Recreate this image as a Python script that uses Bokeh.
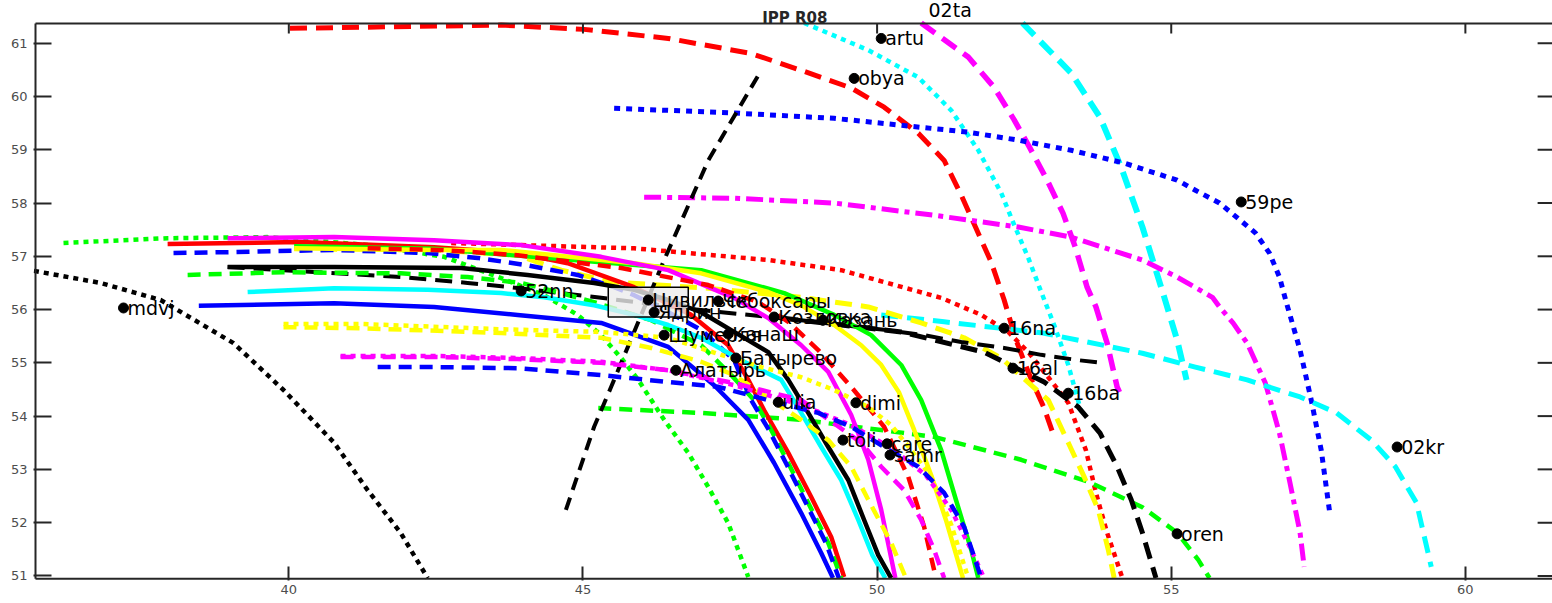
from bokeh.plotting import figure
from bokeh.models import FixedTicker, Range1d, ColumnDataSource
from bokeh.core.properties import value
from bokeh.embed import file_html
from bokeh.resources import INLINE

# ---------------- data (longitude, latitude) ----------------
x_ticks = [40, 45, 50, 55, 60]
y_ticks = [51, 52, 53, 54, 55, 56, 57, 58, 59, 60, 61]

# axes box limits (data units)
box_x = [35.694, 61.50]
box_y = [50.946, 61.370]

black_dot_lon = [35.5, 36.80, 37.82, 39.06, 39.91, 40.77, 41.34, 41.90, 42.36]
black_dot_lat = [56.76, 56.50, 56.18, 55.37, 54.49, 53.50, 52.61, 51.81, 50.96]

green_dot_lon = [36.17, 37.94, 39.64, 41.39, 42.64, 43.61, 44.34, 44.91, 45.31, 45.65, 45.94, 46.38, 46.79, 47.13, 47.47, 47.81]
green_dot_lat = [57.25, 57.34, 57.36, 57.21, 56.99, 56.59, 56.27, 55.90, 55.52, 55.09, 54.68, 53.93, 53.31, 52.67, 51.99, 50.98]

red_dash_top_lon = [40.02, 43.61, 45.02, 46.45, 47.85, 48.71, 49.56, 50.12, 50.70, 51.14, 51.43, 51.68, 51.94, 52.16, 52.36, 52.59, 52.84, 53.01]
red_dash_top_lat = [61.28, 61.34, 61.26, 61.09, 60.81, 60.49, 60.16, 59.80, 59.31, 58.80, 58.15, 57.53, 56.89, 56.18, 55.43, 54.77, 54.15, 53.61]

cyan_dot_top_lon = [48.76, 49.85, 50.70, 51.26, 51.72, 52.11, 52.33, 52.57, 52.79, 53.01, 53.25, 53.47]
cyan_dot_top_lat = [61.38, 60.87, 60.36, 59.74, 58.99, 58.19, 57.59, 56.97, 56.33, 55.71, 54.96, 54.08]

magenta_dash_top_lon = [50.75, 51.55, 51.99, 52.33, 52.59, 52.89, 53.16, 53.37, 53.57, 53.72, 53.91, 54.08, 54.12]
magenta_dash_top_lat = [61.38, 60.74, 60.17, 59.56, 59.05, 58.43, 57.81, 57.17, 56.42, 56.05, 55.37, 54.55, 54.45]

cyan_dash_top_lon = [52.47, 53.30, 53.79, 54.15, 54.51, 54.86, 55.10, 55.26]
cyan_dash_top_lat = [61.38, 60.44, 59.61, 58.67, 57.55, 56.31, 55.43, 54.68]

blue_dot_lon = [45.53, 47.57, 49.27, 50.41, 51.55, 52.40, 53.30, 54.20, 55.10, 55.41, 55.82, 56.17, 56.43, 56.67, 56.84, 56.96, 57.19, 57.38, 57.55, 57.70]
blue_dot_lat = [59.78, 59.69, 59.59, 59.46, 59.33, 59.18, 58.99, 58.75, 58.43, 58.24, 58.00, 57.68, 57.44, 57.06, 56.61, 56.12, 55.24, 54.30, 53.36, 52.14]

magenta_dashdot_lon = [46.04, 47.57, 49.27, 50.97, 52.40, 53.30, 54.51, 55.10, 55.70, 55.82, 56.05, 56.29, 56.60, 56.84, 57.02, 57.19, 57.26]
magenta_dashdot_lat = [58.11, 58.09, 58.00, 57.77, 57.55, 57.36, 56.93, 56.61, 56.23, 56.05, 55.75, 55.37, 54.62, 53.68, 52.74, 51.81, 51.17]

cyan_dash_long_lon = [50.07, 51.14, 52.82, 54.51, 55.41, 56.29, 57.19, 57.81, 58.40, 58.81, 59.17, 59.42]
cyan_dash_long_lat = [55.90, 55.77, 55.56, 55.18, 54.92, 54.68, 54.36, 54.06, 53.55, 53.05, 52.37, 51.17]

red_dot_lon = [42.76, 43.95, 45.87, 48.15, 49.39, 51.09, 51.77, 52.23, 52.57, 52.91, 53.25, 53.55, 53.72, 53.91, 54.17]
red_dot_lat = [57.25, 57.21, 57.15, 56.93, 56.74, 56.22, 55.90, 55.58, 55.20, 54.73, 54.25, 53.36, 52.56, 51.81, 50.96]

green_dash_low_lon = [45.26, 47.01, 48.71, 50.97, 52.45, 53.61, 54.51, 55.10, 55.46, 55.65]
green_dash_low_lat = [54.15, 54.06, 53.93, 53.61, 53.18, 52.76, 52.29, 51.81, 51.30, 50.96]

yellow_dash_up_lon = [40.09, 42.47, 43.89, 44.63, 45.48, 47.13, 48.71, 49.85, 50.75, 51.48, 52.11, 52.62, 52.91, 53.25, 53.52, 53.76, 53.93, 54.03]
yellow_dash_up_lat = [57.14, 57.12, 57.02, 56.74, 56.52, 56.40, 56.23, 56.05, 55.75, 55.47, 55.09, 54.58, 54.30, 53.50, 52.86, 52.24, 51.49, 50.96]

black_dash_h_lon = [38.96, 40.49, 41.90, 43.04, 43.78, 44.63, 45.31, 47.01, 48.71, 50.12, 50.80, 51.43, 52.16, 52.79, 53.42, 53.81]
black_dash_h_lat = [56.80, 56.70, 56.61, 56.50, 56.42, 56.31, 56.22, 55.99, 55.80, 55.62, 55.52, 55.39, 55.28, 55.15, 55.05, 55.00]

black_dash_d_lon = [48.37, 50.41, 51.82, 52.84, 53.42, 53.79, 54.08, 54.32, 54.51, 54.74]
black_dash_d_lat = [55.84, 55.58, 55.20, 54.64, 54.17, 53.68, 53.05, 52.43, 51.81, 50.96]

black_dash_s_lon = [44.71, 45.19, 45.48, 46.38, 47.13, 48.03]
black_dash_s_lat = [52.24, 53.80, 54.55, 56.93, 58.80, 60.49]

red_solid_lon = [37.94, 40.20, 42.47, 43.89, 44.74, 45.87, 46.84, 47.47, 47.81, 48.08, 48.49, 48.88, 49.22, 49.44]
red_solid_lat = [57.23, 57.27, 57.17, 57.06, 56.87, 56.42, 55.90, 55.33, 54.68, 54.11, 53.31, 52.48, 51.73, 50.98]

green_dash_up_lon = [38.28, 39.91, 41.90, 43.04, 43.95, 44.63, 45.19, 46.16, 47.01, 47.52, 47.91, 48.20, 48.49, 48.83, 49.17, 49.39]
green_dash_up_lat = [56.65, 56.70, 56.68, 56.61, 56.50, 56.31, 56.14, 55.80, 55.33, 54.77, 54.30, 53.74, 53.12, 52.37, 51.62, 50.96]

blue_dash_up_lon = [38.04, 39.06, 40.77, 42.36, 43.21, 44.06, 44.91, 45.53, 45.87, 46.45, 47.01, 47.57, 47.86, 48.16, 48.45, 48.79, 49.13, 49.35]
blue_dash_up_lat = [57.06, 57.08, 57.12, 57.06, 56.97, 56.83, 56.65, 56.42, 56.27, 55.95, 55.62, 55.05, 54.30, 53.74, 53.12, 52.37, 51.62, 50.96]

blue_solid_lon = [38.47, 40.77, 42.47, 43.89, 45.31, 46.45, 47.23, 47.81, 48.25, 48.71, 49.05, 49.25]
blue_solid_lat = [56.07, 56.12, 56.05, 55.90, 55.75, 55.30, 54.58, 53.93, 53.12, 52.18, 51.43, 50.96]

cyan_solid_lon = [39.30, 40.77, 42.36, 43.61, 44.34, 45.19, 45.87, 46.45, 47.01, 47.69, 48.37, 48.71, 49.05, 49.39, 49.68, 49.92, 50.14]
cyan_solid_lat = [56.33, 56.40, 56.37, 56.31, 56.23, 56.08, 55.90, 55.71, 55.47, 55.05, 54.68, 54.06, 53.42, 52.80, 52.05, 51.39, 50.96]

green_solid_lon = [40.09, 42.47, 45.31, 47.01, 48.42, 49.27, 49.90, 50.41, 50.75, 51.09, 51.34, 51.60, 51.72]
green_solid_lat = [57.19, 57.14, 56.89, 56.74, 56.31, 55.90, 55.52, 54.96, 54.30, 53.36, 52.43, 51.49, 50.96]

yellow_solid_lon = [40.09, 42.47, 43.61, 45.87, 47.01, 48.15, 48.71, 49.27, 49.73, 50.07, 50.37, 50.63, 50.92, 51.17, 51.46]
yellow_solid_lat = [57.15, 57.12, 57.12, 56.87, 56.68, 56.33, 56.08, 55.71, 55.33, 54.96, 54.45, 53.74, 52.89, 52.05, 50.96]

magenta_solid_lon = [38.96, 40.77, 42.47, 43.95, 45.31, 46.45, 47.57, 48.15, 48.71, 49.17, 49.56, 49.85, 50.07, 50.31]
magenta_solid_lat = [57.34, 57.36, 57.30, 57.21, 56.99, 56.74, 56.22, 55.84, 55.33, 54.83, 54.02, 53.18, 52.24, 50.96]

black_solid_lon = [38.96, 40.77, 42.93, 44.06, 45.19, 45.87, 46.45, 47.01, 47.57, 48.15, 48.49, 48.83, 49.17, 49.51, 49.78, 50.02, 50.24]
black_solid_lat = [56.80, 56.80, 56.78, 56.65, 56.50, 56.37, 56.18, 55.95, 55.58, 55.20, 54.68, 54.06, 53.42, 52.80, 52.05, 51.39, 50.96]

red_dash_mid_lon = [41.34, 42.59, 43.89, 45.65, 47.13, 47.98, 48.49, 49.00, 49.56, 50.12, 50.53, 50.80, 51.00]
red_dash_mid_lat = [57.15, 57.12, 57.02, 56.78, 56.46, 56.14, 55.77, 55.24, 54.55, 53.80, 52.86, 51.92, 50.96]

yellow_dot_lon = [39.91, 41.22, 43.61, 45.31, 46.45, 47.35, 48.03, 48.71, 49.27, 49.85, 50.24, 50.58, 50.92, 51.26, 51.55]
yellow_dot_lat = [55.73, 55.73, 55.63, 55.58, 55.47, 55.15, 54.92, 54.73, 54.49, 54.17, 53.83, 53.36, 52.86, 51.96, 50.96]

yellow_dash_low_lon = [39.91, 41.22, 43.61, 45.31, 46.16, 47.01, 47.57, 48.71, 49.17, 49.56, 49.85, 50.24, 50.49]
yellow_dash_low_lat = [55.67, 55.65, 55.56, 55.47, 55.28, 55.02, 54.77, 53.93, 53.55, 53.05, 52.43, 51.62, 50.96]

magenta_dash_low_lon = [40.88, 42.47, 43.89, 45.31, 46.45, 47.57, 48.71, 49.73, 50.07, 50.46, 50.75, 50.97, 51.14]
magenta_dash_low_lat = [55.11, 55.11, 55.07, 55.00, 54.86, 54.62, 54.30, 53.50, 53.05, 52.61, 52.05, 51.49, 50.96]

magenta_dot_low_lon = [40.88, 42.47, 43.89, 45.31, 46.45, 47.57, 48.71, 49.56, 50.24, 50.83, 51.26, 51.56, 51.82]
magenta_dot_low_lat = [55.13, 55.13, 55.09, 55.02, 54.86, 54.58, 54.21, 53.83, 53.40, 52.89, 52.24, 51.58, 50.96]

blue_dash_low_lon = [41.51, 42.47, 43.89, 45.31, 46.45, 47.30, 48.15, 49.00, 49.56, 50.12, 50.70, 51.14, 51.48, 51.77]
blue_dash_low_lat = [54.92, 54.92, 54.90, 54.77, 54.64, 54.55, 54.30, 54.06, 53.80, 53.42, 53.05, 52.56, 51.92, 50.96]

# stations
station_names = ["artu", "obya", "59pe", "52nn", "mdvj", "Цивильск", "Ядрин", "Чебоксары",
                 "Козловка", "Казань", "Шумерля", "Канаш", "Батырево", "Алатырь", "ulia",
                 "dimi", "toli", "care", "samr", "16na", "16al", "16ba", "02kr", "oren"]
station_lon = [50.07, 49.61, 56.19, 43.95, 37.19, 46.11, 46.21, 47.30,
               48.25, 49.08, 46.38, 47.47, 47.60, 46.58, 48.32,
               49.64, 49.42, 50.17, 50.22, 52.16, 52.31, 53.25, 58.84, 55.10]
station_lat = [61.09, 60.34, 58.02, 56.35, 56.03, 56.18, 55.95, 56.16,
               55.86, 55.80, 55.52, 55.54, 55.09, 54.86, 54.26,
               54.25, 53.55, 53.48, 53.27, 55.65, 54.90, 54.43, 53.42, 51.79]

box_lon = [45.43, 46.79]
box_lat = [55.86, 56.42]

title_text = ["IPP R08"]
title_lon = [48.60]
title_lat = [61.482]

offscale_text = ["02ta"]
offscale_lon = [50.874]
offscale_lat = [61.633]

# ---------------- styles ----------------
RED, GREEN, BLUE = "#ff0000", "#00ff00", "#0000ff"
CYAN, MAGENTA, YELLOW, BLACK = "#00ffff", "#ff00ff", "#ffff00", "#000000"
DASH, DASH_T, DOT, DASHDOT = "13 8", "17 9", "5 5", "17 6 5 6"

series = [
    (black_dot_lon, black_dot_lat, BLACK, DOT, 4.5),
    (green_dot_lon, green_dot_lat, GREEN, DOT, 4.5),
    (red_dash_top_lon, red_dash_top_lat, RED, DASH_T, 5),
    (cyan_dot_top_lon, cyan_dot_top_lat, CYAN, DOT, 4.5),
    (magenta_dash_top_lon, magenta_dash_top_lat, MAGENTA, DASH_T, 5.5),
    (cyan_dash_top_lon, cyan_dash_top_lat, CYAN, DASH_T, 6),
    (blue_dot_lon, blue_dot_lat, BLUE, "6 6", 5),
    (magenta_dashdot_lon, magenta_dashdot_lat, MAGENTA, DASHDOT, 5),
    (cyan_dash_long_lon, cyan_dash_long_lat, CYAN, DASH_T, 5),
    (red_dot_lon, red_dot_lat, RED, DOT, 4.5),
    (green_dash_low_lon, green_dash_low_lat, GREEN, DASH, 4.5),
    (yellow_dash_up_lon, yellow_dash_up_lat, YELLOW, DASH_T, 5),
    (black_dash_h_lon, black_dash_h_lat, BLACK, DASH_T, 4),
    (black_dash_d_lon, black_dash_d_lat, BLACK, DASH_T, 5),
    (black_dash_s_lon, black_dash_s_lat, BLACK, DASH, 4),
    (red_solid_lon, red_solid_lat, RED, "solid", 4.5),
    (green_dash_up_lon, green_dash_up_lat, GREEN, DASH, 4.5),
    (blue_dash_up_lon, blue_dash_up_lat, BLUE, DASH, 4.5),
    (blue_solid_lon, blue_solid_lat, BLUE, "solid", 4.5),
    (cyan_solid_lon, cyan_solid_lat, CYAN, "solid", 4.5),
    (green_solid_lon, green_solid_lat, GREEN, "solid", 4.5),
    (yellow_solid_lon, yellow_solid_lat, YELLOW, "solid", 4.5),
    (magenta_solid_lon, magenta_solid_lat, MAGENTA, "solid", 4.5),
    (black_solid_lon, black_solid_lat, BLACK, "solid", 4.5),
    (red_dash_mid_lon, red_dash_mid_lat, RED, DASH, 4.5),
    (yellow_dot_lon, yellow_dot_lat, YELLOW, DOT, 4.5),
    (yellow_dash_low_lon, yellow_dash_low_lat, YELLOW, DASH, 4.5),
    (magenta_dash_low_lon, magenta_dash_low_lat, MAGENTA, DASH, 4.5),
    (magenta_dot_low_lon, magenta_dot_low_lat, MAGENTA, DOT, 4.5),
    (blue_dash_low_lon, blue_dash_low_lat, BLUE, DASH, 4.5),
]

AX = "#262626"

# frame spans the whole canvas height above the x labels so that the title
# (which sits above the axes box) can be drawn as text
X0, X1 = 35.660, 61.481
Y0, Y1 = 50.914, 61.802

p = figure(width=1552, height=603,
           x_range=Range1d(X0, X1), y_range=Range1d(Y0, Y1),
           output_backend="svg", toolbar_location=None,
           min_border_left=33, min_border_right=0, min_border_top=0, min_border_bottom=23)
p.grid.visible = False
p.background_fill_color = "white"
p.border_fill_color = "white"
p.outline_line_color = None

p.xaxis.ticker = FixedTicker(ticks=x_ticks)
p.yaxis.ticker = FixedTicker(ticks=y_ticks)
p.xaxis.major_tick_in = 14
p.yaxis.major_tick_in = 18
for ax in (p.xaxis[0], p.yaxis[0]):
    ax.axis_line_color = None
    ax.major_tick_out = 0
    ax.major_tick_line_width = 2
    ax.major_tick_line_color = AX
    ax.minor_tick_line_color = None
    ax.major_label_text_font = "DejaVu Sans"
    ax.major_label_text_font_size = "13px"
    ax.major_label_text_color = "#4d4d4d"
p.xaxis.major_label_standoff = 4
p.yaxis.major_label_standoff = 6

# data curves
for lon, lat, color, dash, w in series:
    p.line(lon, lat, line_color=color, line_dash=dash, line_width=w, line_join="round")

p.quad(left=[box_lon[0]], right=[box_lon[1]], bottom=[box_lat[0]], top=[box_lat[1]],
       fill_color="#ececec", fill_alpha=0.8, line_color="black", line_width=1.5)

# axes box (left, bottom, top) and mirrored ticks on top / right
p.line([box_x[0], box_x[0]], [box_y[0], box_y[1]], line_color=AX, line_width=2)
p.line([box_x[0], box_x[1]], [box_y[0], box_y[0]], line_color=AX, line_width=2)
p.line([box_x[0], box_x[1]], [box_y[1], box_y[1]], line_color=AX, line_width=2)
tick_dy = 10 / 53.27
tick_dx = 16 / 58.83
p.segment(x0=x_ticks, y0=[box_y[1]] * len(x_ticks), x1=x_ticks,
          y1=[box_y[1] - tick_dy] * len(x_ticks), line_color=AX, line_width=2)
p.segment(x0=[box_x[1]] * len(y_ticks), y0=y_ticks, x1=[box_x[1] - tick_dx] * len(y_ticks),
          y1=y_ticks, line_color=AX, line_width=2)

src = ColumnDataSource(dict(lon=station_lon, lat=station_lat, name=station_names))
p.scatter("lon", "lat", source=src, size=10, color="black")
p.text("lon", "lat", text="name", source=src, x_offset=4, text_align="left",
       text_baseline="middle", text_font=value("DejaVu Sans"), text_font_size="19px",
       text_color="black")

p.text(title_lon, title_lat, text=title_text, text_align="center",
       text_baseline="alphabetic", text_font=value("DejaVu Sans"),
       text_font_style="bold", text_font_size="15px", text_color="#262626")
p.text(offscale_lon, offscale_lat, text=offscale_text, text_align="left",
       text_baseline="alphabetic", text_font=value("DejaVu Sans"),
       text_font_size="19px", text_color="black")

open("out.html", "w").write(file_html(p, INLINE))
